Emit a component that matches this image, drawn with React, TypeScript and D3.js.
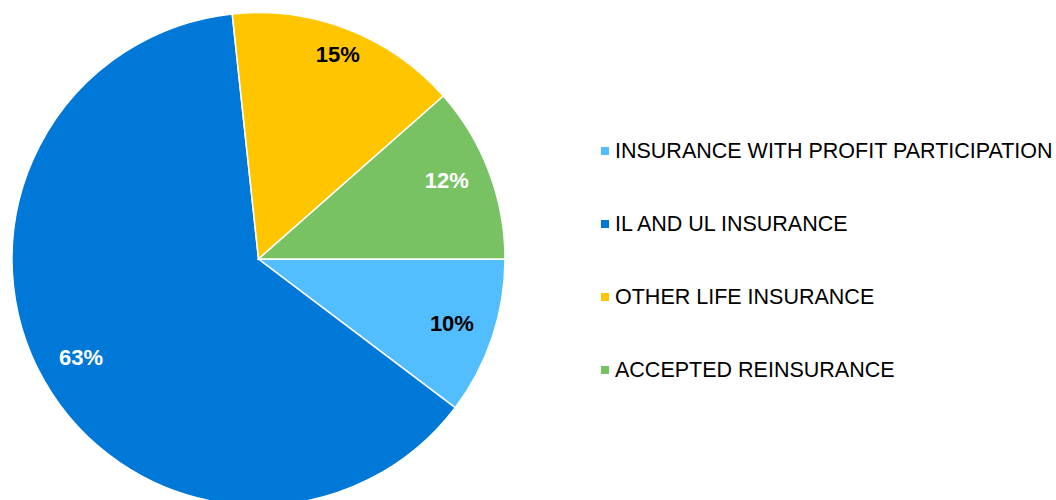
import React from "react";
import * as d3 from "d3";

const categories = [
  "INSURANCE WITH PROFIT PARTICIPATION",
  "IL AND UL INSURANCE",
  "OTHER LIFE INSURANCE",
  "ACCEPTED REINSURANCE",
];
const values = [10.3, 63.0, 15.2, 11.5];
const labels = ["10%", "63%", "15%", "12%"];
const colors = ["#52BDFF", "#0078D7", "#FFC600", "#78C264"];
const labelColors = ["#000000", "#FFFFFF", "#000000", "#FFFFFF"];

// layout: label radius and angle nudge (degrees) per slice (best-fit placement)
const labelRadii = [204, 203, 219, 204];
const labelNudgeDeg = [0, 0.5, 0, -2];

export default function App() {
  const width = 1056;
  const height = 500;
  const cx = 258.5;
  const cy = 259;
  const r = 246.5;
  const pie = d3
    .pie<number>()
    .sort(null)
    .value((d) => d)
    .startAngle(Math.PI / 2)
    .endAngle(Math.PI / 2 + 2 * Math.PI);
  const arcs = pie(values);
  const arc = d3.arc<d3.PieArcDatum<number>>().innerRadius(0).outerRadius(r);
  const legendY = d3
    .scalePoint<string>()
    .domain(categories)
    .range([151, 370]);

  return (
    <svg
      width={width}
      height={height}
      style={{ position: "absolute", left: 0, top: 0, background: "#fff" }}
      fontFamily="Arial, 'Liberation Sans', sans-serif"
    >
      <g transform={`translate(${cx},${cy})`}>
        {arcs.map((a, i) => (
          <path
            key={i}
            d={arc(a) || ""}
            fill={colors[i]}
            stroke="#fff"
            strokeWidth={1.5}
          />
        ))}
        {arcs.map((a, i) => {
          const mid =
            (a.startAngle + a.endAngle) / 2 + (labelNudgeDeg[i] * Math.PI) / 180;
          const x = labelRadii[i] * Math.sin(mid);
          const y = -labelRadii[i] * Math.cos(mid);
          return (
            <text
              key={i}
              x={x}
              y={y}
              textAnchor="middle"
              dominantBaseline="central"
              fontSize={22}
              fontWeight="bold"
              fill={labelColors[i]}
            >
              {labels[i]}
            </text>
          );
        })}
      </g>
      {categories.map((c, i) => {
        const y = legendY(c) as number;
        return (
          <g key={c}>
            <rect x={601} y={y - 4} width={8} height={8} fill={colors[i]} />
            <text
              x={615}
              y={y}
              dominantBaseline="central"
              fontSize={21.5}
              fill="#000"
            >
              {c}
            </text>
          </g>
        );
      })}
    </svg>
  );
}
